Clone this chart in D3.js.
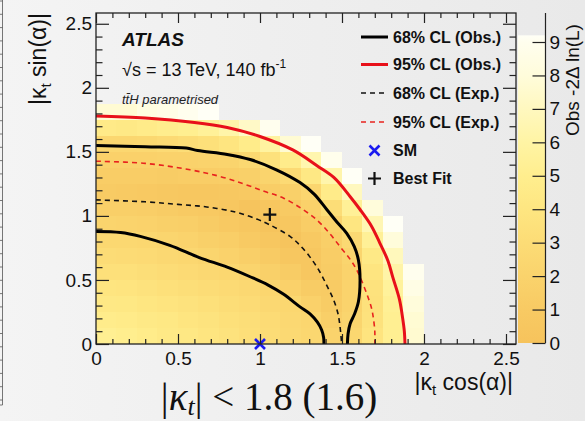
<!DOCTYPE html>
<html>
<head>
<meta charset="utf-8">
<script src="https://cdn.jsdelivr.net/npm/d3@7"></script>
<style>
  html, body { margin: 0; padding: 0; overflow: hidden; }
  svg { display: block; }
  text { font-family: "Liberation Sans", Arial, Helvetica, sans-serif; }
</style>
</head>
<body>
<svg id="chart" width="585" height="421"></svg>
<script>
// ---- likelihood scan: -2 Delta ln(L) on a grid of |kt cos(a)| x |kt sin(a)| bins ----
const binCos = 0.125;   // bin width along |kt cos(a)|
const binSin = 0.125;   // bin width along |kt sin(a)|
// one row per |kt sin(a)| bin (bottom row first), one entry per |kt cos(a)| bin; null = not scanned
const nllRows = [
  [5.2, 5.0, 4.7, 4.4, 4.2, 3.9, 3.6, 3.3, 3.0, 2.7, 2.4, 2.0, 2.4, 3.8, 5.2, 7.6],
  [4.8, 4.6, 4.4, 4.2, 3.9, 3.7, 3.4, 3.2, 2.9, 2.6, 2.3, 1.5, 2.2, 3.6, 5.2, 7.7],
  [4.3, 4.2, 4.0, 3.8, 3.6, 3.4, 3.1, 2.9, 2.6, 2.4, 1.8, 1.2, 2.0, 3.5, 5.3, 8.0],
  [3.9, 3.8, 3.6, 3.4, 3.2, 3.0, 2.8, 2.6, 2.3, 1.8, 1.2, 1.1, 2.0, 3.6, 5.6, 8.5],
  [3.4, 3.4, 3.2, 3.0, 2.8, 2.6, 2.4, 2.1, 1.7, 1.2, 0.6, 1.2, 2.0, 3.9, 6.1, 9.0],
  [3.0, 2.9, 2.8, 2.6, 2.4, 2.2, 1.9, 1.5, 1.1, 0.6, 0.5, 1.3, 2.2, 4.4, 6.9, null],
  [2.5, 2.5, 2.4, 2.2, 2.0, 1.7, 1.4, 1.0, 0.6, 0.2, 0.9, 1.6, 2.7, 5.4, 8.0, null],
  [2.1, 2.0, 1.9, 1.7, 1.5, 1.2, 0.9, 0.6, 0.2, 0.5, 1.3, 2.0, 4.0, 6.6, 9.2, null],
  [1.6, 1.5, 1.4, 1.2, 1.0, 0.8, 0.5, 0.1, 0.4, 1.0, 1.8, 3.1, 5.4, 8.0, null, null],
  [1.1, 1.0, 0.9, 0.7, 0.5, 0.5, 0.7, 0.9, 1.3, 1.7, 2.3, 4.6, 7.0, null, null, null],
  [1.3, 1.3, 1.3, 1.2, 1.3, 1.3, 1.4, 1.7, 2.1, 2.8, 4.2, 6.3, 9.2, null, null, null],
  [1.8, 1.8, 1.8, 1.9, 1.9, 2.0, 2.1, 2.5, 3.5, 4.8, 6.4, 8.9, null, null, null, null],
  [2.4, 2.4, 2.5, 2.8, 3.1, 3.4, 3.9, 4.7, 5.8, 7.7, 9.4, null, null, null, null, null],
  [4.5, 4.4, 4.6, 4.9, 5.1, 5.5, 6.2, 7.3, 9.0, null, null, null, null, null, null, null],
  [7.7, 7.7, 8.3, 8.6, 9.0, 9.2, null, null, null, null, null, null, null, null, null, null]
];

// ---- contours [|kt cos(a)|, |kt sin(a)|] ----
const obs68Outer = [[0,1.55],[0.3,1.54],[0.55,1.53],[0.62,1.51],[0.8,1.48],[0.94,1.44],[1.1,1.36],[1.244,1.26],[1.33,1.17],[1.407,1.05],[1.47,0.95],[1.528,0.865],[1.575,0.76],[1.6,0.656],[1.61,0.5],[1.6,0.33],[1.575,0.23],[1.55,0.16],[1.537,0.08],[1.533,0]];
const obs68Inner = [[0,0.878],[0.15,0.87],[0.27,0.84],[0.45,0.77],[0.63,0.675],[0.8,0.6],[0.94,0.525],[1.05,0.46],[1.142,0.39],[1.244,0.29],[1.305,0.235],[1.35,0.17],[1.376,0.109],[1.388,0.05],[1.39,0]];
const obs95 = [[0,1.78],[0.3,1.765],[0.6,1.73],[0.8,1.69],[1.0,1.62],[1.2,1.515],[1.35,1.39],[1.45,1.30],[1.55,1.15],[1.61,1.05],[1.68,0.92],[1.73,0.79],[1.78,0.65],[1.81,0.52],[1.85,0.35],[1.87,0.2],[1.88,0.1],[1.884,0]];
const exp68 = [[0,1.125],[0.3,1.11],[0.5,1.09],[0.675,1.07],[0.85,1.03],[0.98,0.975],[1.06,0.93],[1.183,0.84],[1.244,0.77],[1.31,0.67],[1.366,0.56],[1.41,0.45],[1.447,0.35],[1.475,0.24],[1.488,0.135],[1.498,0]];
const exp95 = [[0,1.427],[0.3,1.41],[0.573,1.36],[0.75,1.31],[0.9,1.25],[1.03,1.19],[1.142,1.14],[1.25,1.06],[1.345,0.97],[1.42,0.87],[1.488,0.76],[1.55,0.66],[1.59,0.578],[1.65,0.396],[1.68,0.28],[1.69,0.213],[1.70,0.1],[1.70,0]];

// ---- reference points ----
const smPoint = [1.0, 0.0];
const bestFit = [1.06, 1.01];

// ---- axes ----
const xTicks = [0, 0.5, 1, 1.5, 2, 2.5];
const xTickLabels = ["0", "0.5", "1", "1.5", "2", "2.5"];
const yTicks = [0, 0.5, 1, 1.5, 2, 2.5];
const yTickLabels = ["0", "0.5", "1", "1.5", "2", "2.5"];
const zTicks = [0, 1, 2, 3, 4, 5, 6, 7, 8, 9];

// ---- palette of the -2 Delta ln(L) axis ----
const paletteLevels = [0, 1, 2, 3, 4, 5, 6, 7, 8, 9, 9.2];
const paletteColors = ["#f6c35c", "#f8ca63", "#fad36c", "#fcdc76", "#fee681", "#ffee8e", "#fff4a4", "#fff8bf", "#fffcdb", "#fffeee", "#fffff6"];

// ---- legend ----
const legendLabels = ["68% CL (Obs.)", "95% CL (Obs.)", "68% CL (Exp.)", "95% CL (Exp.)", "SM", "Best Fit"];

const svg = d3.select("#chart");
const W = 585, H = 421;

const defs = svg.append("defs");
const bg = defs.append("linearGradient").attr("id", "bg").attr("x1", 0).attr("x2", 1).attr("y1", 0).attr("y2", 0);
bg.append("stop").attr("offset", 0).attr("stop-color", "#f4f4f4");
bg.append("stop").attr("offset", 1).attr("stop-color", "#e9e9e9");
svg.append("rect").attr("width", W).attr("height", H).attr("fill", "url(#bg)");

// thin ruled strip along the left border
const strip = svg.append("g").attr("stroke", "#555").attr("stroke-width", 0.8);
strip.append("line").attr("x1", 2.5).attr("x2", 2.5).attr("y1", 0).attr("y2", 405);
d3.range(1, 405, 13.3).forEach(v => strip.append("line").attr("x1", 0).attr("x2", 2.5).attr("y1", v).attr("y2", v));
strip.append("line").attr("x1", 0).attr("x2", 2.5).attr("y1", 405).attr("y2", 405);

// scales
const x = d3.scaleLinear().domain([0, 2.561]).range([96, 516]);
const y = d3.scaleLinear().domain([0, 2.584]).range([344, 13]);
const color = d3.scaleLinear().domain(paletteLevels).range(paletteColors).clamp(true);
const z = d3.scaleLinear().domain([0, 9]).range([343, 42]);
const zMax = paletteLevels[paletteLevels.length - 1];

defs.append("clipPath").attr("id", "plotClip").append("rect")
  .attr("x", x(0)).attr("y", y(2.584)).attr("width", x(2.561) - x(0)).attr("height", y(0) - y(2.584));

// heat map cells
const cells = [];
nllRows.forEach((row, j) => row.forEach((v, i) => { if (v !== null) cells.push({ i, j, v }); }));
svg.append("g").attr("clip-path", "url(#plotClip)")
  .selectAll("rect").data(cells).join("rect")
  .attr("x", d => x(d.i * binCos))
  .attr("y", d => y((d.j + 1) * binSin))
  .attr("width", d => x((d.i + 1) * binCos) - x(d.i * binCos))
  .attr("height", d => y(d.j * binSin) - y((d.j + 1) * binSin))
  .attr("fill", d => color(d.v))
  .attr("shape-rendering", "crispEdges");

// contours
const line = d3.line().x(d => x(d[0])).y(d => y(d[1])).curve(d3.curveCatmullRom.alpha(0.5));
const contourStyles = [
  { pts: exp95, stroke: "#e8231e", width: 1.6, dash: "5,4" },
  { pts: exp68, stroke: "#111", width: 1.6, dash: "5,4" },
  { pts: obs95, stroke: "#e8101a", width: 3, dash: null },
  { pts: obs68Outer, stroke: "#000", width: 3, dash: null },
  { pts: obs68Inner, stroke: "#000", width: 3, dash: null }
];
const cg = svg.append("g").attr("clip-path", "url(#plotClip)");
contourStyles.forEach(c => {
  cg.append("path").attr("d", line(c.pts)).attr("fill", "none")
    .attr("stroke", c.stroke).attr("stroke-width", c.width)
    .attr("stroke-dasharray", c.dash).attr("stroke-linejoin", "round");
});

// markers
function cross(g, cx, cy, r, col, w) {
  g.append("path").attr("d", `M${cx - r},${cy - r}L${cx + r},${cy + r}M${cx - r},${cy + r}L${cx + r},${cy - r}`)
    .attr("stroke", col).attr("stroke-width", w).attr("fill", "none");
}
function plus(g, cx, cy, r, col, w) {
  g.append("path").attr("d", `M${cx - r},${cy}L${cx + r},${cy}M${cx},${cy - r}L${cx},${cy + r}`)
    .attr("stroke", col).attr("stroke-width", w).attr("fill", "none");
}
const mk = svg.append("g");
cross(mk, x(smPoint[0]), y(smPoint[1]), 5, "#1b1bf0", 2.6);
plus(mk, x(bestFit[0]), y(bestFit[1]), 6.5, "#111", 2.2);

// frame + axes with inward ticks
const axisFont = 19;
const minorX = d3.range(0, 2.561, 0.1).filter(v => Math.abs(v * 2 - Math.round(v * 2)) > 1e-6);
const minorY = d3.range(0, 2.584, 0.1).filter(v => Math.abs(v * 2 - Math.round(v * 2)) > 1e-6);

function styleAxis(g) {
  g.select(".domain").remove();
  g.selectAll("line").attr("stroke", "#222").attr("stroke-width", 1.2);
  g.selectAll("text").attr("font-size", axisFont).attr("fill", "#111")
    .style("font-family", '"Liberation Sans", Arial, sans-serif');
}

svg.append("g").attr("transform", `translate(0,${y(0)})`)
  .call(d3.axisBottom(x).tickValues(xTicks).tickFormat((d, i) => xTickLabels[i]).tickSizeInner(-10).tickSizeOuter(0).tickPadding(8))
  .call(styleAxis);
svg.append("g").attr("transform", `translate(0,${y(0)})`)
  .call(d3.axisBottom(x).tickValues(minorX).tickFormat("").tickSizeInner(-5).tickSizeOuter(0)).call(styleAxis);
svg.append("g").attr("transform", `translate(0,${y(2.584)})`)
  .call(d3.axisTop(x).tickValues(xTicks).tickFormat("").tickSizeInner(-10).tickSizeOuter(0)).call(styleAxis);
svg.append("g").attr("transform", `translate(0,${y(2.584)})`)
  .call(d3.axisTop(x).tickValues(minorX).tickFormat("").tickSizeInner(-5).tickSizeOuter(0)).call(styleAxis);

svg.append("g").attr("transform", `translate(${x(0)},0)`)
  .call(d3.axisLeft(y).tickValues(yTicks).tickFormat((d, i) => yTickLabels[i]).tickSizeInner(-13).tickSizeOuter(0).tickPadding(4))
  .call(styleAxis);
svg.append("g").attr("transform", `translate(${x(0)},0)`)
  .call(d3.axisLeft(y).tickValues(minorY).tickFormat("").tickSizeInner(-6.5).tickSizeOuter(0)).call(styleAxis);
svg.append("g").attr("transform", `translate(${x(2.561)},0)`)
  .call(d3.axisRight(y).tickValues(yTicks).tickFormat("").tickSizeInner(-13).tickSizeOuter(0)).call(styleAxis);
svg.append("g").attr("transform", `translate(${x(2.561)},0)`)
  .call(d3.axisRight(y).tickValues(minorY).tickFormat("").tickSizeInner(-6.5).tickSizeOuter(0)).call(styleAxis);

svg.append("rect").attr("x", x(0)).attr("y", y(2.584)).attr("width", x(2.561) - x(0)).attr("height", y(0) - y(2.584))
  .attr("fill", "none").attr("stroke", "#222").attr("stroke-width", 1.3);

// axis titles
const yt = svg.append("text").attr("transform", `translate(46,13) rotate(-90)`).attr("text-anchor", "end")
  .attr("font-size", 23).attr("fill", "#111");
yt.append("tspan").text("|κ");
yt.append("tspan").attr("font-size", 15).attr("dy", 5).text("t");
yt.append("tspan").attr("dy", -5).text(" sin(α)|");

const xt = svg.append("text").attr("x", 513).attr("y", 390).attr("text-anchor", "end")
  .attr("font-size", 23).attr("fill", "#111");
xt.append("tspan").text("|κ");
xt.append("tspan").attr("font-size", 15).attr("dy", 5).text("t");
xt.append("tspan").attr("dy", -5).text(" cos(α)|");

// colour bar
const cb = defs.append("linearGradient").attr("id", "cbar").attr("x1", 0).attr("x2", 0).attr("y1", 1).attr("y2", 0);
paletteLevels.forEach((lv, k) => cb.append("stop").attr("offset", lv / zMax).attr("stop-color", paletteColors[k]));
svg.append("rect").attr("x", 518).attr("y", z(zMax)).attr("width", 27).attr("height", z(0) - z(zMax)).attr("fill", "url(#cbar)");
svg.append("line").attr("x1", 545.5).attr("x2", 545.5).attr("y1", 13).attr("y2", z(0)).attr("stroke", "#222").attr("stroke-width", 1.2);
svg.append("g").attr("transform", "translate(545.5,0)")
  .call(d3.axisRight(z).tickValues(zTicks).tickFormat(d3.format("d")).tickSizeInner(-13).tickSizeOuter(0).tickPadding(4))
  .call(styleAxis);
svg.append("text").attr("transform", "translate(579,136) rotate(-90)").attr("text-anchor", "start")
  .attr("font-size", 19).attr("fill", "#111").text("Obs -2Δ ln(L)");

// labels
svg.append("text").attr("x", 122).attr("y", 46).attr("font-size", 19).attr("font-weight", "bold")
  .attr("font-style", "italic").attr("fill", "#111").text("ATLAS");
const lum = svg.append("text").attr("x", 122).attr("y", 76).attr("font-size", 18).attr("fill", "#111");
lum.append("tspan").text("√s = 13 TeV, 140 fb");
lum.append("tspan").attr("font-size", 12).attr("dy", -8).text("-1");
svg.append("text").attr("x", 122).attr("y", 104).attr("font-size", 13).attr("font-style", "italic")
  .attr("fill", "#222").text("tt\u0304H parametrised");

// legend
const legY = [37, 64.5, 93, 122, 150.5, 178.5];
const leg = svg.append("g");
const legendMarks = [
  g => g.append("line").attr("x1", 361).attr("x2", 388).attr("stroke", "#000").attr("stroke-width", 3),
  g => g.append("line").attr("x1", 361).attr("x2", 388).attr("stroke", "#e8101a").attr("stroke-width", 3),
  g => g.append("line").attr("x1", 361).attr("x2", 388).attr("stroke", "#111").attr("stroke-width", 1.6).attr("stroke-dasharray", "5,4"),
  g => g.append("line").attr("x1", 361).attr("x2", 388).attr("stroke", "#e8231e").attr("stroke-width", 1.6).attr("stroke-dasharray", "5,4"),
  g => cross(g, 374.5, 0, 5, "#1b1bf0", 2.6),
  g => plus(g, 374.5, 0, 6.5, "#111", 2.2)
];
legendLabels.forEach((lab, k) => {
  const g = leg.append("g").attr("transform", `translate(0,${legY[k]})`);
  legendMarks[k](g);
  g.append("text").attr("x", 393).attr("y", 0).attr("dy", "0.36em").attr("font-size", 16)
    .attr("font-weight", "bold").attr("fill", "#111").text(lab);
});

// bound on |kt|
const bt = svg.append("text").attr("x", 269).attr("y", 410).attr("text-anchor", "middle")
  .attr("font-size", 39).attr("fill", "#111").style("font-family", '"Liberation Serif", "Times New Roman", serif');
bt.append("tspan").text("|");
bt.append("tspan").attr("font-style", "italic").text("κ");
bt.append("tspan").attr("font-style", "italic").attr("font-size", 26).attr("dy", 5).text("t");
bt.append("tspan").attr("dy", -5).text("| < 1.8 (1.6)");
</script>
</body>
</html>
